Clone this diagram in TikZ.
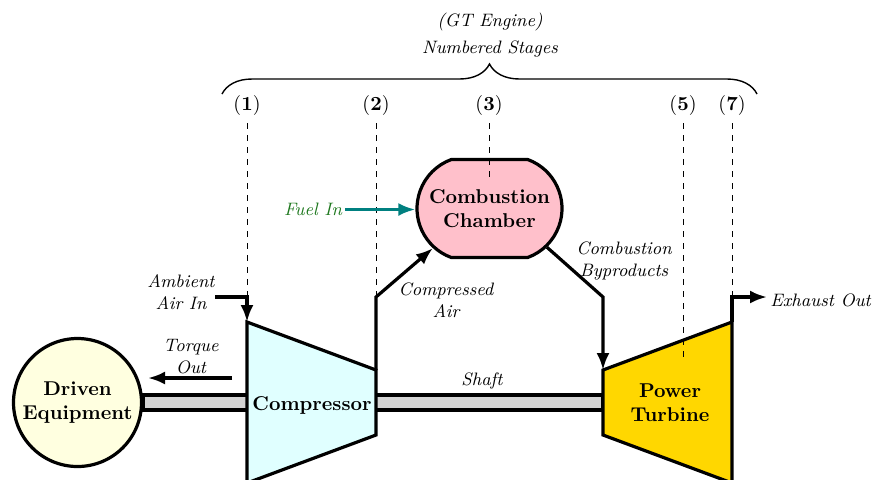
\documentclass[tikz,border=0pt]{standalone}
\usetikzlibrary{arrows.meta,decorations.pathreplacing,shapes.misc}

\definecolor{compfill}{RGB}{224,255,255}
\definecolor{turbfill}{RGB}{255,215,0}
\definecolor{chamberfill}{RGB}{255,192,203}
\definecolor{drivenfill}{RGB}{255,255,224}
\definecolor{shaftfill}{RGB}{211,211,211}
\definecolor{fuelline}{RGB}{0,128,128}
\definecolor{fueltext}{RGB}{30,120,30}

\tikzset{
  part/.style={line width=1.6pt, line join=miter},
  flow/.style={line width=1.6pt, -{Latex[length=8.5pt,width=6.5pt]}},
  fuelflow/.style={line width=1.6pt, color=fuelline, -{Latex[length=8.5pt,width=6.5pt]}},
  stageline/.style={dashed, line width=0.5pt},
  note/.style={font=\small\itshape, align=center, inner sep=1pt},
  partlabel/.style={font=\bfseries, align=center, inner sep=1pt},
  stagelabel/.style={inner sep=1pt},
}

\begin{document}
\begin{tikzpicture}[x=0.5pt,y=-0.5pt]
\useasboundingbox (0,0) rectangle (872,479);

% corner points of the compressor and the power turbine
\coordinate (cin)  at (247,322);
\coordinate (cout) at (376,370);
\coordinate (tin)  at (603,370);
\coordinate (tout) at (732,322);

% shaft from the driven equipment through to the turbine
\draw[part, fill=shaftfill] (143,395) rectangle (603,410);

% compressor and power turbine bodies
\draw[part, fill=compfill] (cin) -- (cout) -- (376,435) -- (247,483) -- cycle;
\draw[part, fill=turbfill] (tin) -- (tout) -- (732,483) -- (603,435) -- cycle;
\node[partlabel] (comp) at (312,405) {Compressor};
\node[partlabel] (turb) at (670,403) {Power\\Turbine};

% driven equipment
\node[circle, draw, line width=1.6pt, fill=drivenfill, minimum size=64pt,
      inner sep=0pt, font=\bfseries, align=center] (driven) at (77.5,402.5)
      {Driven\\Equipment};

% combustion chamber
\node[rounded rectangle, rounded rectangle arc length=140, draw, line width=1.6pt,
      fill=chamberfill, minimum width=74.5pt, minimum height=49pt, inner sep=1pt,
      font=\bfseries, align=center] (chamber) at (489.5,208.5)
      {Combustion\\Chamber};

% numbered stages
\node[stagelabel] (s1) at (247,105) {$(\mathbf{1})$};
\node[stagelabel] (s2) at (376,105) {$(\mathbf{2})$};
\node[stagelabel] (s3) at (489,105) {$(\mathbf{3})$};
\node[stagelabel] (s5) at (683,105) {$(\mathbf{5})$};
\node[stagelabel] (s7) at (732,105) {$(\mathbf{7})$};

\coordinate (d1) at (247,297);
\coordinate (d2) at (376,297);
\coordinate (d3) at (489,178);
\coordinate (d5) at (683,360);
\coordinate (d7) at (732,297);
\draw[stageline] ([yshift=-3pt]s1.south) -- (d1);
\draw[stageline] ([yshift=-3pt]s2.south) -- (d2);
\draw[stageline] ([yshift=-3pt]s3.south) -- (d3);
\draw[stageline] ([yshift=-3pt]s5.south) -- (d5);
\draw[stageline] ([yshift=-3pt]s7.south) -- (d7);

% brace over the stages
\coordinate (bl) at (222,94);
\coordinate (br) at (757,94);
\draw[line width=0.7pt, decorate, decoration={brace, amplitude=15pt}] (bl) -- (br);
\node[note] (title) at (490,35) {(GT Engine)\\[2.5pt]Numbered Stages};

% gas path
\coordinate (airsrc) at (215,297);
\draw[flow] (airsrc) -- (247,297) -- (cin);
\node[note] (airlbl) at (181,292) {Ambient\\Air In};

\draw[flow] (cout) -- (376,297) -- (chamber.215);
\node[note] (calbl) at (446,300) {Compressed\\Air};

\draw[flow] (chamber.-34) -- (603,297) -- (tin);
\node[note] (bplbl) at (624,261) {Combustion\\Byproducts};

\node[note, anchor=west] (exlbl) at (768,300) {Exhaust Out};
\coordinate (exend) at (767,297);
\draw[flow] (tout) -- (732,297) -- (exend);

% fuel supply
\node[note, text=fueltext] (fuel) at (313,209) {Fuel In};
\coordinate (fuelsrc) at (345,209.5);
\draw[fuelflow] (fuelsrc) -- (fuelsrc -| chamber.west);

% torque delivered to the driven equipment
\coordinate (tqsrc) at (232,378);
\coordinate (tqend) at (148,378);
\draw[flow] (tqsrc) -- (tqend);
\node[note] (tqlbl) at (191,357) {Torque\\Out};

% shaft label
\node[note] (shaftlbl) at (482,381) {Shaft};
\end{tikzpicture}
\end{document}
